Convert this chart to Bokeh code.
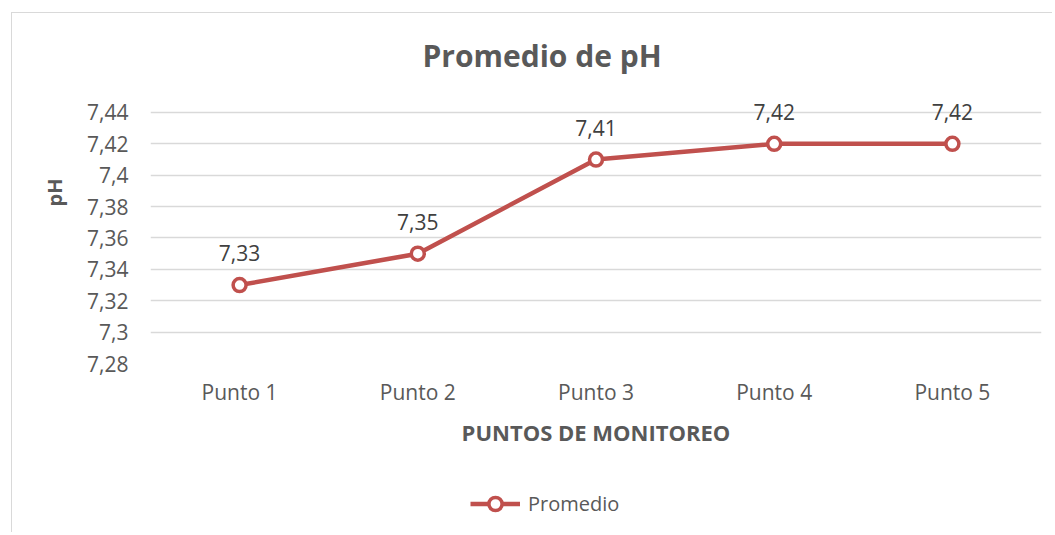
from bokeh.plotting import figure
from bokeh.layouts import column
from bokeh.models import (FactorRange, Range1d, FixedTicker, CustomJSTickFormatter,
                          ColumnDataSource, LabelSet, Label, Legend, LegendItem)
from bokeh.core.properties import value
from bokeh.embed import file_html
from bokeh.resources import INLINE

# ---- data ----
categories = ["Punto 1", "Punto 2", "Punto 3", "Punto 4", "Punto 5"]
promedio = [7.33, 7.35, 7.41, 7.42, 7.42]
y_ticks = [7.28, 7.30, 7.32, 7.34, 7.36, 7.38, 7.40, 7.42, 7.44]
title_text = "Promedio de pH"
x_title = "PUNTOS DE MONITOREO"
y_title = "pH"
series_name = "Promedio"

FONT = "Open Sans"
RED = "#C0504D"
GREY = "#595959"

labels = [("%.2f" % v).rstrip("0").replace(".", ",") for v in promedio]
src = ColumnDataSource(dict(x=categories, y=promedio, lab=labels))

# frame extends above the top tick so that title and data labels are not clipped
y_top = y_ticks[-1] + 0.058

p = figure(width=1040, height=450,
           x_range=FactorRange(*categories),
           y_range=Range1d(y_ticks[0], y_top),
           output_backend="svg", toolbar_location=None,
           min_border_left=138, min_border_right=11,
           min_border_top=8, min_border_bottom=100)

p.outline_line_color = None
p.background_fill_color = "white"
p.border_fill_color = "white"

# grid
p.xgrid.grid_line_color = None
p.ygrid.grid_line_color = "#d9d9d9"
p.ygrid.grid_line_width = 1.3

# y axis
p.yaxis.ticker = FixedTicker(ticks=y_ticks)
p.yaxis.formatter = CustomJSTickFormatter(code="return tick.toFixed(2).replace(/0$/, '').replace('.', ',');")
p.yaxis.axis_line_color = None
p.yaxis.major_tick_line_color = None
p.yaxis.minor_tick_line_color = None
p.yaxis.major_label_standoff = 16
p.yaxis.major_label_text_font = FONT
p.yaxis.major_label_text_font_size = "21px"
p.yaxis.major_label_text_color = GREY
p.yaxis.axis_label = y_title
p.yaxis.axis_label_text_font = FONT
p.yaxis.axis_label_text_font_style = "bold"
p.yaxis.axis_label_text_font_size = "20px"
p.yaxis.axis_label_text_color = GREY
p.yaxis.axis_label_standoff = 16

# x axis
p.xaxis.axis_line_color = None
p.xaxis.major_tick_line_color = None
p.xaxis.minor_tick_line_color = None
p.xaxis.major_label_standoff = 8
p.xaxis.major_label_text_font = FONT
p.xaxis.major_label_text_font_size = "21px"
p.xaxis.major_label_text_color = GREY
p.xaxis.axis_label = x_title
p.xaxis.axis_label_text_font = FONT
p.xaxis.axis_label_text_font_style = "bold"
p.xaxis.axis_label_text_font_size = "22px"
p.xaxis.axis_label_text_color = GREY
p.xaxis.axis_label_standoff = 8

# series
p.line("x", "y", source=src, color=RED, line_width=4.5)
p.scatter("x", "y", source=src, size=13, fill_color="white", line_color=RED, line_width=3.5)

p.add_layout(LabelSet(x="x", y="y", text="lab", source=src, y_offset=32,
                      text_align="center", text_baseline="middle",
                      text_font=value(FONT), text_font_size=value("21px"),
                      text_color="#404040"))

# title
p.add_layout(Label(x=2.197, y=7.4763, text=title_text, text_align="center",
                   text_baseline="middle", text_font=FONT, text_font_size="30px",
                   text_font_style="bold", text_color=GREY))

# legend strip underneath (same series, drawn outside its visible y range)
p2 = figure(width=1040, height=69, x_range=FactorRange(*categories), y_range=(0, 1),
            output_backend="svg", toolbar_location=None, min_border=0)
p2.axis.visible = False
p2.grid.grid_line_color = None
p2.outline_line_color = None
l2 = p2.line("x", "y", source=src, color=RED, line_width=4.5)
s2 = p2.scatter("x", "y", source=src, size=13, fill_color="white", line_color=RED, line_width=3.5)
lg = Legend(items=[LegendItem(label=series_name, renderers=[l2, s2])],
            location=(320, 12), orientation="horizontal",
            glyph_width=50, glyph_height=33, label_standoff=8,
            padding=0, margin=0, border_line_color=None, background_fill_alpha=0,
            label_text_font=FONT, label_text_font_size="20px", label_text_color=GREY)
p2.add_layout(lg, "center")

layout = column(p, p2, spacing=0)
layout.margin = (12, 0, 0, 11)
layout.styles = {"border-left": "1px solid #d9d9d9", "border-top": "1px solid #d9d9d9"}

open("out.html", "w").write(file_html(layout, INLINE))
